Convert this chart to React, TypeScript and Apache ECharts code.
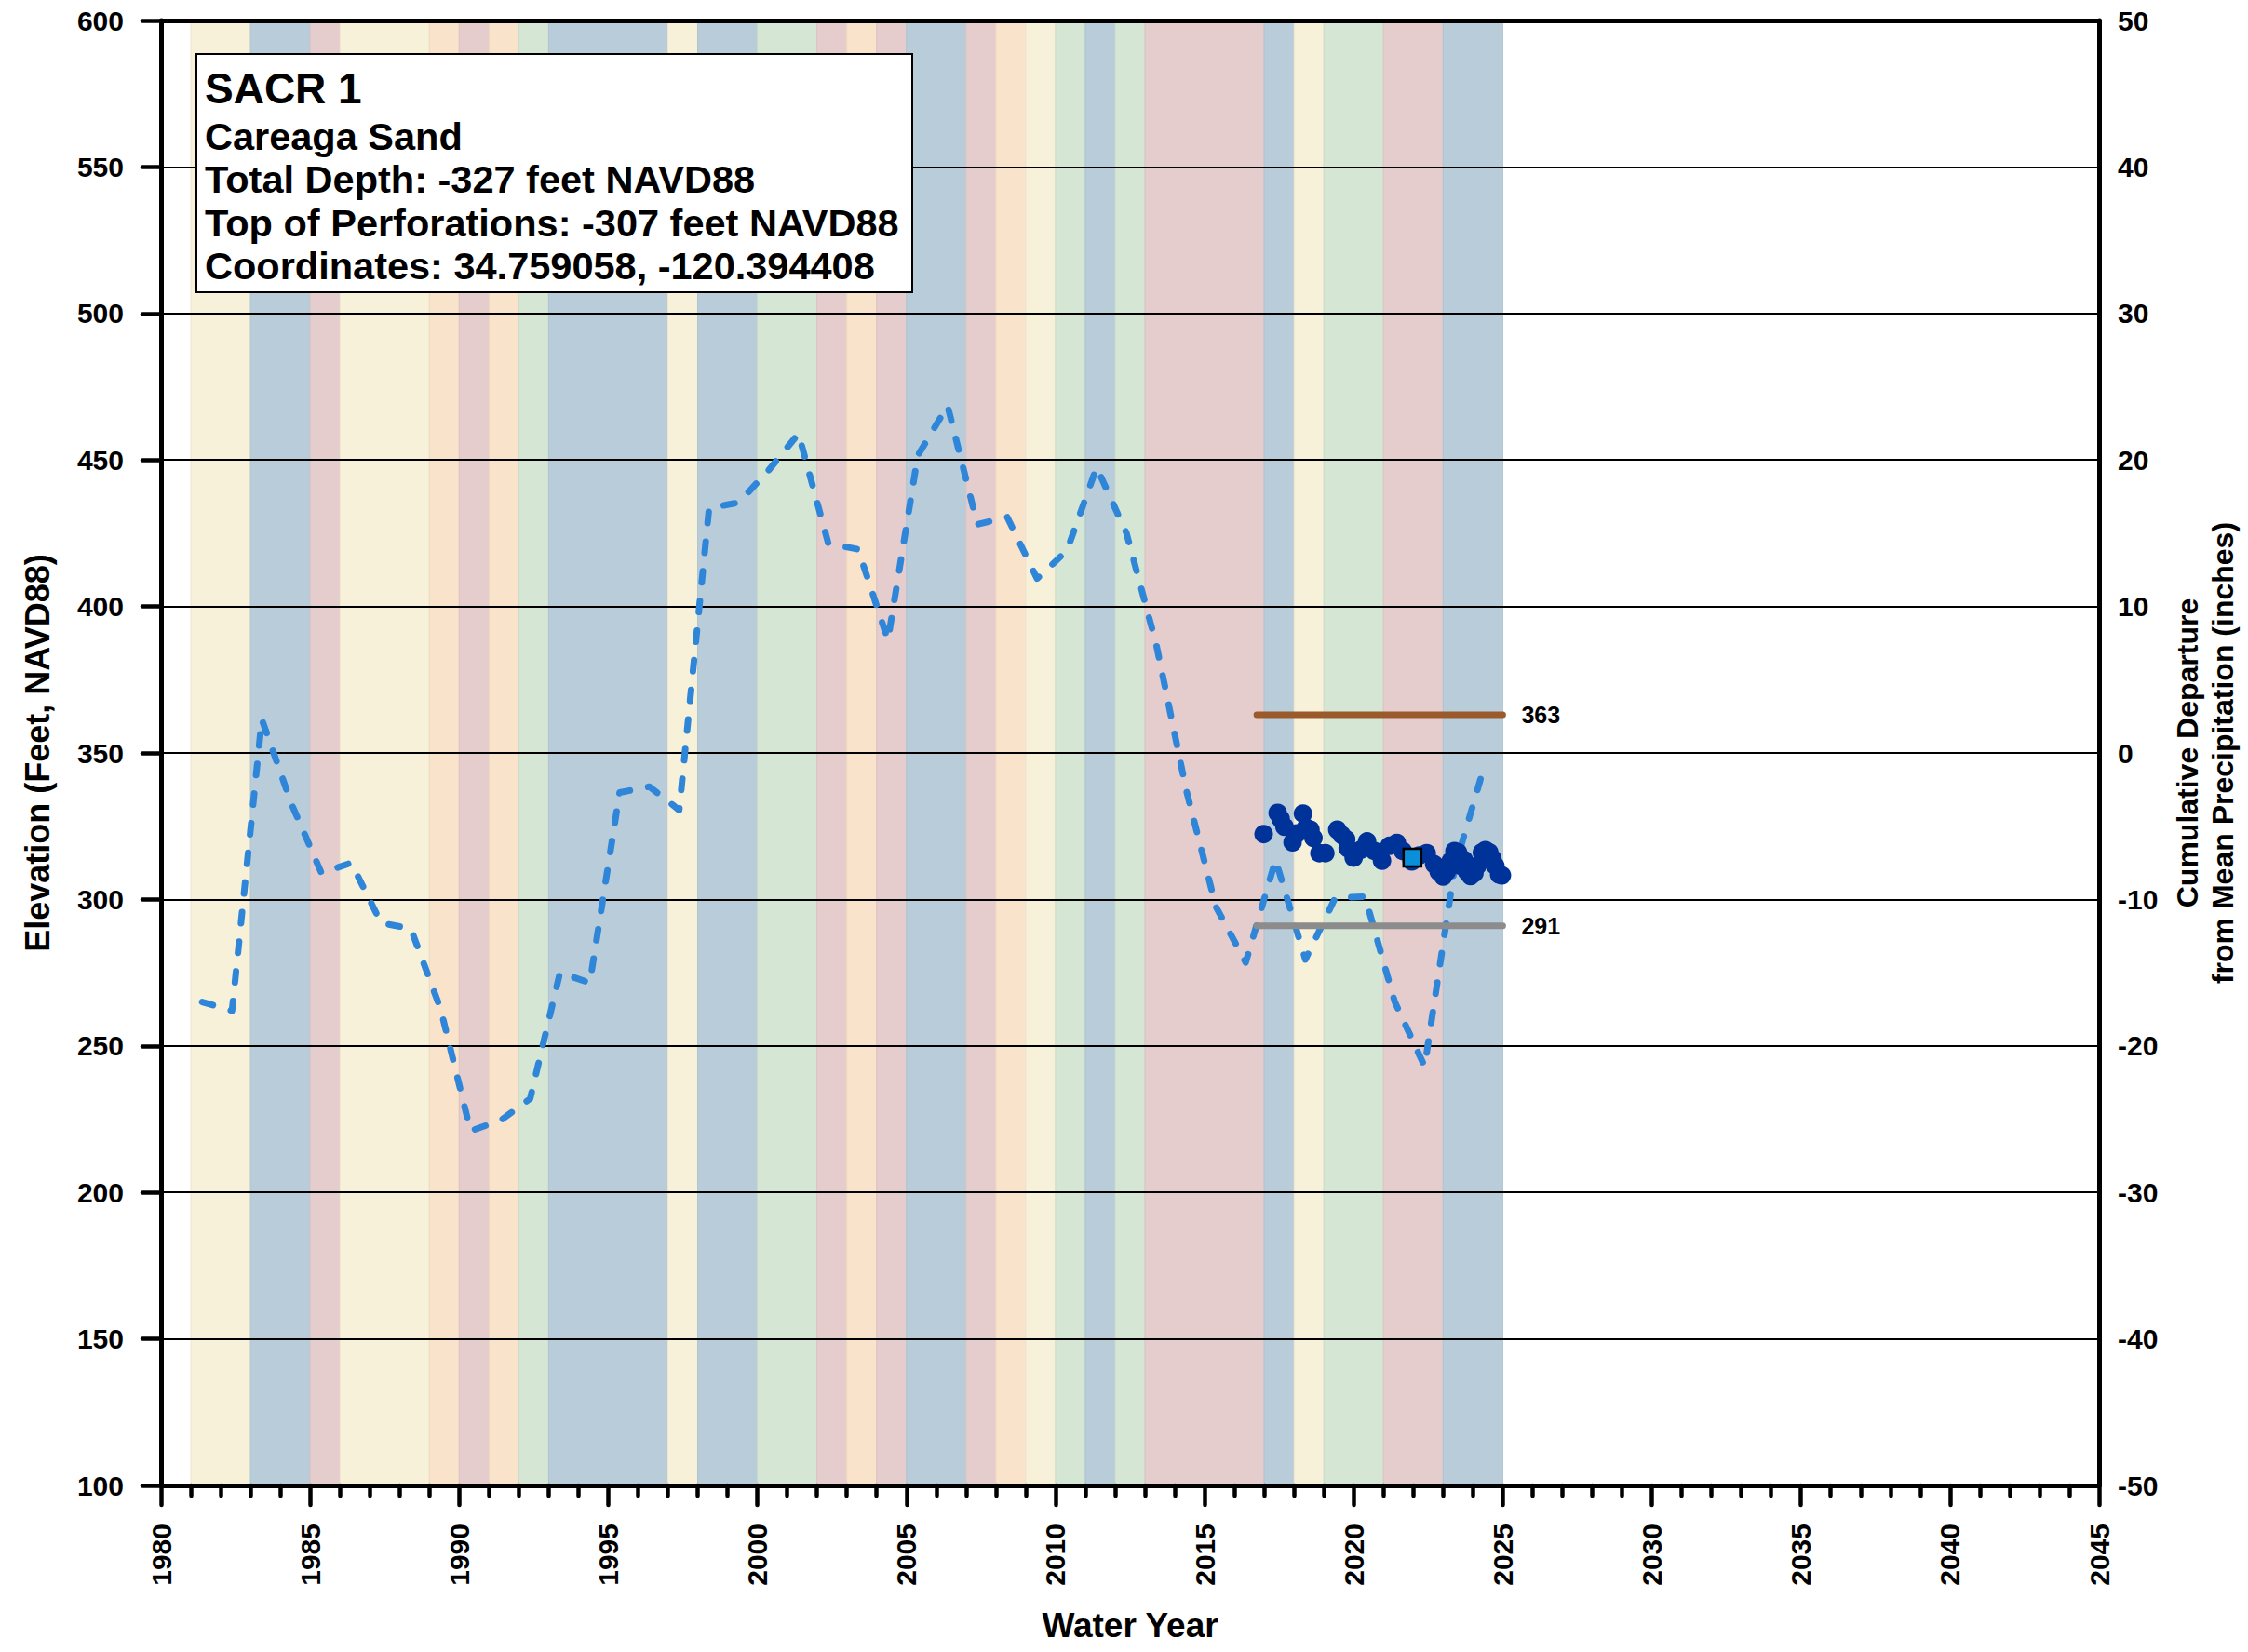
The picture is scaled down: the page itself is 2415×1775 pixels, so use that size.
import React, { useEffect, useRef } from "react";
import * as echarts from "echarts";

// ---------- DATA ----------
const xTickMin = 1980;
const xTickMax = 2045;
const elevMin = 100;
const elevMax = 600;
const deptMin = -50;
const deptMax = 50;

// Water-year type bands (start year, end year, type)
const bandStart = [1981, 1983, 1985, 1986, 1989, 1990, 1991, 1992, 1993, 1997, 1998, 2000, 2002, 2003, 2004, 2005, 2007, 2008, 2009, 2010, 2011, 2012, 2013, 2017, 2018, 2019, 2021, 2023];
const bandEnd = [1983, 1985, 1986, 1989, 1990, 1991, 1992, 1993, 1997, 1998, 2000, 2002, 2003, 2004, 2005, 2007, 2008, 2009, 2010, 2011, 2012, 2013, 2017, 2018, 2019, 2021, 2023, 2025];
const bandType = ["BN", "W", "C", "BN", "D", "C", "D", "AN", "W", "BN", "W", "AN", "C", "D", "C", "W", "C", "D", "BN", "AN", "W", "AN", "C", "W", "BN", "AN", "C", "W"];
const bandFill: Record<string, string> = {
  W: "#B9CCDA",
  AN: "#D5E7D4",
  BN: "#F8F1DA",
  D: "#FAE3CB",
  C: "#E5CDCE",
};
const bandEdge: Record<string, string> = {
  W: "#AFC3D2",
  AN: "#C9DDC9",
  BN: "#EDE5CD",
  D: "#EFD8C0",
  C: "#DAC2C3",
};

// Cumulative departure from mean precipitation (inches), plotted at decimal water year
const precipYear = [1981.38, 1982.38, 1983.38, 1984.38, 1985.38, 1986.38, 1987.38, 1988.38, 1989.38, 1990.38, 1991.38, 1992.38, 1993.38, 1994.38, 1995.38, 1996.38, 1997.38, 1998.38, 1999.38, 2000.38, 2001.38, 2002.38, 2003.38, 2004.38, 2005.38, 2006.38, 2007.38, 2008.38, 2009.38, 2010.38, 2011.38, 2012.38, 2013.38, 2014.38, 2015.38, 2016.38, 2017.38, 2018.38, 2019.38, 2020.38, 2021.38, 2022.38, 2023.38, 2024.38];
const precipDeparture = [-17.0, -17.6, 2.3, -3.5, -8.2, -7.5, -11.6, -12.0, -17.5, -25.8, -25.1, -23.6, -15.0, -15.7, -2.7, -2.3, -3.9, 16.7, 17.1, 19.3, 21.8, 14.3, 13.9, 7.7, 20.3, 23.7, 15.6, 16.1, 11.9, 13.8, 19.5, 15.0, 7.4, -2.5, -10.5, -14.3, -7.3, -14.1, -9.9, -9.8, -17.0, -21.4, -7.9, -0.9];

// Groundwater elevation measurements (feet NAVD88)
const gwYear = [2016.98, 2017.45, 2017.55, 2017.68, 2017.95, 2018.1, 2018.3, 2018.4, 2018.55, 2018.65, 2018.85, 2019.05, 2019.45, 2019.6, 2019.75, 2019.8, 2020.0, 2020.25, 2020.45, 2020.7, 2020.95, 2021.2, 2021.45, 2021.65, 2021.95, 2022.2, 2022.45, 2022.7, 2022.85, 2023.0, 2023.12, 2023.25, 2023.38, 2023.5, 2023.58, 2023.7, 2023.8, 2023.92, 2024.05, 2024.15, 2024.3, 2024.42, 2024.55, 2024.65, 2024.75, 2024.88, 2024.97];
const gwElev = [322.3, 329.5, 327.5, 324.8, 319.5, 322.5, 329.3, 324.5, 323.8, 321.0, 315.8, 315.8, 323.8, 322.0, 320.5, 317.5, 314.3, 317.0, 319.8, 316.5, 313.2, 318.3, 319.3, 316.5, 313.0, 315.0, 315.8, 312.0, 309.5, 307.8, 309.5, 313.0, 316.5, 316.0, 311.5, 313.5, 309.5, 308.0, 309.0, 311.5, 316.0, 316.8, 316.0, 314.0, 311.5, 308.5, 308.2];

// Highlighted measurement (square)
const highlightYear = [2021.97];
const highlightElev = [314.3];

// Threshold lines
const thresholdStart = 2016.75;
const thresholdEnd = 2025.0;
const upperThreshold = 363;
const lowerThreshold = 291;

// Info box text
const infoTitle = "SACR 1";
const infoLines = [
  "Careaga Sand",
  "Total Depth: -327 feet NAVD88",
  "Top of Perforations: -307 feet NAVD88",
  "Coordinates: 34.759058, -120.394408",
];

const FONT = "'Liberation Sans', Arial, Helvetica, sans-serif";

export default function App() {
  const ref = useRef<HTMLDivElement>(null);

  useEffect(() => {
    if (!ref.current) return;
    const chart = echarts.init(ref.current, null, { renderer: "svg" });

    const bandData = bandStart.map((s, i) => [s, bandEnd[i], i]);
    const precipData = precipYear.map((x, i) => [x, precipDeparture[i]]);
    const gwData = gwYear.map((x, i) => [x, gwElev[i]]);
    const hlData = highlightYear.map((x, i) => [x, highlightElev[i]]);

    const tickLabel = { fontFamily: FONT, fontWeight: "bold" as const, fontSize: 30, color: "#000" };

    const boxX = 211;
    const boxY = 58;

    const graphicElements: any[] = [
      {
        type: "rect",
        z: 100,
        shape: { x: boxX, y: boxY, width: 769, height: 256 },
        style: { fill: "#ffffff", stroke: "#000000", lineWidth: 2 },
      },
      {
        type: "text",
        z: 101,
        x: boxX + 9,
        y: boxY + 37,
        style: {
          text: infoTitle,
          fontFamily: FONT,
          fontWeight: "bold",
          fontSize: 46,
          fill: "#000000",
          verticalAlign: "middle",
          align: "left",
        },
      },
    ];
    infoLines.forEach((t, i) => {
      graphicElements.push({
        type: "text",
        z: 101,
        x: boxX + 9,
        y: boxY + 88 + i * 46.5,
        style: {
          text: t,
          fontFamily: FONT,
          fontWeight: "bold",
          fontSize: 41.5,
          fill: "#000000",
          verticalAlign: "middle",
          align: "left",
        },
      });
    });

    const option: any = {
      animation: false,
      backgroundColor: "#ffffff",
      textStyle: { fontFamily: FONT },
      grid: { left: 173, right: 156, top: 22, bottom: 179, containLabel: false },
      xAxis: [
        {
          type: "value",
          min: xTickMin,
          max: xTickMax,
          interval: 5,
          z: 1,
          name: "Water Year",
          nameLocation: "middle",
          nameGap: 132,
          nameTextStyle: { fontFamily: FONT, fontWeight: "bold", fontSize: 37, color: "#000" },
          axisLine: { show: true, onZero: false, lineStyle: { color: "#000", width: 5 } },
          axisTick: { show: true, inside: false, length: 21, lineStyle: { color: "#000", width: 4.5, cap: "round" } },
          minorTick: { show: true, splitNumber: 5, length: 11, lineStyle: { color: "#000", width: 4.5, cap: "round" } },
          axisLabel: { ...tickLabel, rotate: 90, margin: 41, formatter: (v: number) => String(v) },
          splitLine: { show: false },
        },
        {
          type: "value",
          position: "top",
          min: xTickMin,
          max: xTickMax,
          z: 1,
          axisLine: { show: true, onZero: false, lineStyle: { color: "#000", width: 5 } },
          axisTick: { show: false },
          axisLabel: { show: false },
          splitLine: { show: false },
        },
      ],
      yAxis: [
        {
          type: "value",
          min: elevMin,
          max: elevMax,
          interval: 50,
          z: 1,
          name: "Elevation (Feet, NAVD88)",
          nameLocation: "middle",
          nameGap: 115,
          nameRotate: 90,
          nameTextStyle: { fontFamily: FONT, fontWeight: "bold", fontSize: 36, color: "#000" },
          axisLine: { show: true, onZero: false, lineStyle: { color: "#000", width: 5 } },
          axisTick: { show: true, inside: false, length: 20, lineStyle: { color: "#000", width: 4.5, cap: "round" } },
          axisLabel: { ...tickLabel, margin: 40 },
          splitLine: { show: true, lineStyle: { color: "#000", width: 1.8 } },
        },
        {
          type: "value",
          min: deptMin,
          max: deptMax,
          interval: 10,
          z: 1,
          position: "right",
          name: "Cumulative Departure\nfrom Mean Precipitation (inches)",
          nameLocation: "middle",
          nameGap: 76,
          nameRotate: 90,
          nameTextStyle: { fontFamily: FONT, fontWeight: "bold", fontSize: 32, lineHeight: 38, color: "#000" },
          axisLine: { show: true, onZero: false, lineStyle: { color: "#000", width: 5 } },
          axisTick: { show: false },
          axisLabel: { ...tickLabel, margin: 20 },
          splitLine: { show: false },
        },
      ],
      series: [
        {
          type: "custom",
          name: "Water Year Type",
          z: 0,
          xAxisIndex: 0,
          yAxisIndex: 0,
          silent: true,
          data: bandData,
          encode: { x: [0, 1] },
          renderItem: (params: any, api: any) => {
            const idx = api.value(2);
            const t = bandType[idx];
            const p1 = api.coord([api.value(0), elevMax]);
            const p2 = api.coord([api.value(1), elevMin]);
            return {
              type: "rect",
              shape: { x: p1[0], y: p1[1], width: p2[0] - p1[0], height: p2[1] - p1[1] },
              style: { fill: bandFill[t], stroke: bandEdge[t], lineWidth: 1 },
            };
          },
        },
        {
          type: "line",
          name: "Cumulative Departure",
          z: 3,
          xAxisIndex: 0,
          yAxisIndex: 1,
          data: precipData,
          symbol: "none",
          lineStyle: { color: "#2F86D8", width: 7, type: [12, 20], cap: "round", join: "round" },
        },
        {
          type: "line",
          name: "Upper",
          z: 3,
          xAxisIndex: 0,
          yAxisIndex: 0,
          data: [[thresholdStart, upperThreshold], [thresholdEnd, upperThreshold]],
          symbol: "none",
          lineStyle: { color: "#9A5A2C", width: 7, cap: "round" },
          endLabel: {
            show: true,
            distance: 20,
            formatter: (p: any) => String(p.value[1]),
            fontFamily: FONT,
            fontWeight: "bold",
            fontSize: 25,
            color: "#000",
          },
        },
        {
          type: "line",
          name: "Lower",
          z: 3,
          xAxisIndex: 0,
          yAxisIndex: 0,
          data: [[thresholdStart, lowerThreshold], [thresholdEnd, lowerThreshold]],
          symbol: "none",
          lineStyle: { color: "#8C8C8C", width: 7, cap: "round" },
          endLabel: {
            show: true,
            distance: 20,
            formatter: (p: any) => String(p.value[1]),
            fontFamily: FONT,
            fontWeight: "bold",
            fontSize: 25,
            color: "#000",
          },
        },
        {
          type: "scatter",
          name: "Groundwater Elevation",
          z: 4,
          xAxisIndex: 0,
          yAxisIndex: 0,
          data: gwData,
          symbol: "circle",
          symbolSize: 20,
          itemStyle: { color: "#003399", opacity: 1 },
        },
        {
          type: "scatter",
          name: "Highlighted",
          z: 5,
          xAxisIndex: 0,
          yAxisIndex: 0,
          data: hlData,
          symbol: "rect",
          symbolSize: 19,
          itemStyle: { color: "#0A90DA", borderColor: "#000", borderWidth: 2.5, opacity: 1 },
        },
      ],
      graphic: { elements: graphicElements },
    };

    chart.setOption(option);
    return () => chart.dispose();
  }, []);

  return (
    <div
      ref={ref}
      style={{ position: "fixed", left: 0, top: 0, width: 2415, height: 1775, background: "#fff" }}
    />
  );
}
